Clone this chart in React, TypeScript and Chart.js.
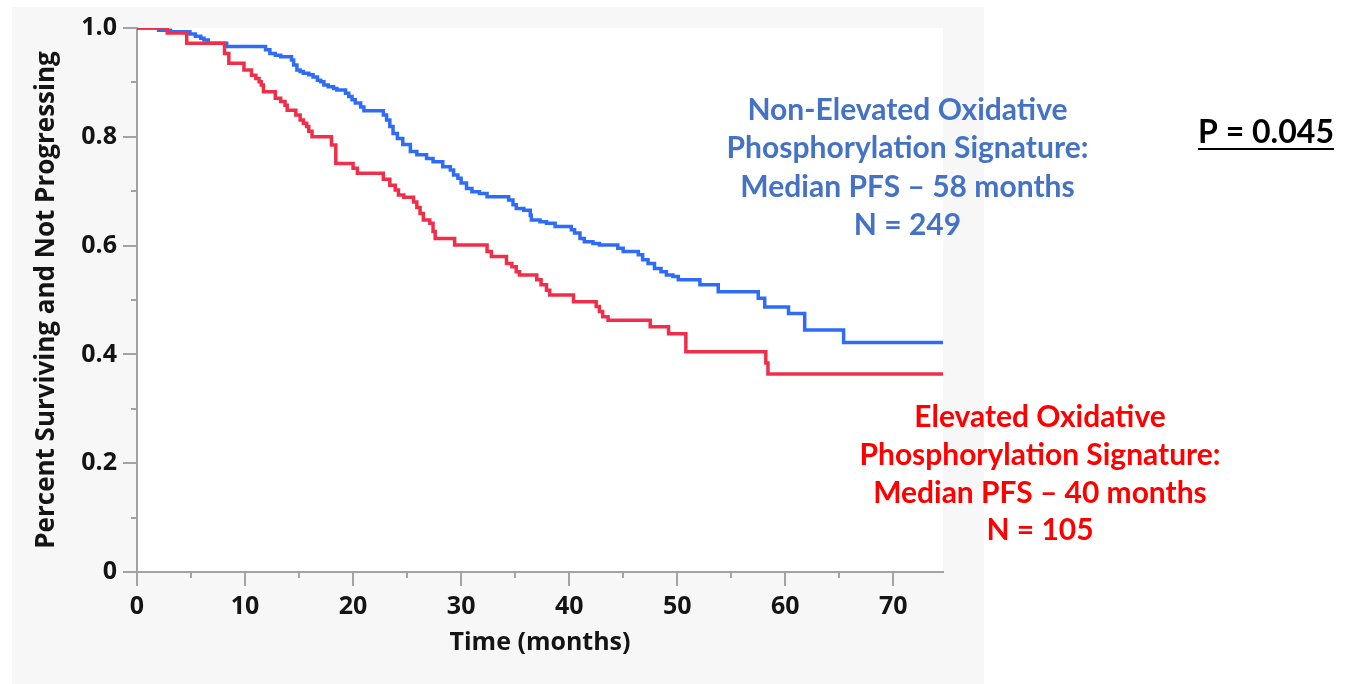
import React, { useEffect, useRef } from 'react';
import { Chart, registerables } from 'chart.js';

Chart.register(...registerables);

// ---- Data (Kaplan-Meier steps: time of drop, survival after drop) ----
const redTimes = [
  0, 2.8, 4.6, 8.1, 8.5, 9.9, 10.6, 11.0, 11.3, 11.5, 11.7, 12.8, 13.3, 13.7, 13.9,
  14.7, 15.1, 15.4, 15.7, 15.9, 16.2, 18.0, 18.4, 20.0, 20.4, 22.8, 23.4, 23.9, 24.2,
  24.7, 25.6, 25.9, 26.2, 26.5, 27.1, 27.4, 27.6, 29.4, 32.4, 32.8, 34.2, 34.7, 35.1,
  35.4, 37.0, 37.4, 37.9, 38.2, 40.4, 42.5, 42.8, 43.1, 43.6, 47.5, 49.2, 50.8, 58.2,
  58.4, 74.6,
];
const redSurvival = [
  1.0, 0.991, 0.972, 0.953, 0.935, 0.923, 0.913, 0.907, 0.901, 0.895, 0.883, 0.871, 0.865, 0.858, 0.849,
  0.840, 0.831, 0.825, 0.819, 0.810, 0.800, 0.785, 0.751, 0.742, 0.733, 0.722, 0.711, 0.702, 0.693,
  0.689, 0.680, 0.670, 0.659, 0.647, 0.641, 0.626, 0.613, 0.601, 0.589, 0.580, 0.567, 0.561, 0.552,
  0.546, 0.537, 0.528, 0.518, 0.509, 0.497, 0.488, 0.479, 0.469, 0.463, 0.451, 0.438, 0.405, 0.384,
  0.364, 0.364,
];

const blueTimes = [
  0, 2.0, 3.1, 4.9, 5.4, 5.9, 6.2, 6.6, 8.3, 11.9, 12.3, 12.8, 13.3, 14.3, 14.5, 14.8,
  15.1, 15.4, 15.9, 16.3, 16.7, 17.0, 17.3, 17.7, 18.2, 18.5, 19.3, 19.6, 19.9, 20.2,
  20.7, 21.0, 22.8, 23.1, 23.4, 23.7, 24.1, 24.6, 25.3, 25.9, 26.8, 27.4, 28.3, 29.0,
  29.3, 29.7, 30.0, 30.5, 31.0, 31.7, 32.4, 34.4, 34.8, 35.1, 35.8, 36.4, 36.5, 37.3,
  37.9, 38.7, 40.2, 40.5, 41.0, 41.4, 42.2, 42.8, 44.5, 45.0, 46.4, 46.8, 47.3, 47.9,
  48.5, 49.0, 49.6, 50.1, 52.1, 53.8, 57.5, 58.1, 60.3, 61.8, 65.4, 74.6,
];
const blueSurvival = [
  1.0, 0.996, 0.993, 0.989, 0.985, 0.981, 0.978, 0.972, 0.966, 0.960, 0.953, 0.950, 0.947, 0.941, 0.932, 0.923,
  0.920, 0.917, 0.914, 0.910, 0.904, 0.901, 0.895, 0.892, 0.889, 0.886, 0.880, 0.874, 0.868, 0.862,
  0.855, 0.848, 0.840, 0.831, 0.819, 0.806, 0.797, 0.786, 0.773, 0.767, 0.760, 0.754, 0.745, 0.739,
  0.730, 0.724, 0.715, 0.705, 0.699, 0.696, 0.690, 0.684, 0.675, 0.668, 0.665, 0.656, 0.647, 0.644,
  0.641, 0.635, 0.629, 0.623, 0.613, 0.607, 0.604, 0.601, 0.595, 0.589, 0.583, 0.574, 0.567, 0.558,
  0.552, 0.546, 0.543, 0.537, 0.528, 0.515, 0.503, 0.487, 0.475, 0.445, 0.422, 0.422,
];

const xMajorTicks = [0, 10, 20, 30, 40, 50, 60, 70];
const xMinorTicks = [5, 15, 25, 35, 45, 55, 65];
const yMajorTicks = [0, 0.2, 0.4, 0.6, 0.8, 1.0];
const yMinorTicks = [0.1, 0.3, 0.5, 0.7, 0.9];

const xAxisTitle = 'Time (months)';
const yAxisTitle = 'Percent Surviving and Not Progressing';
const blueNote = ['Non-Elevated Oxidative', 'Phosphorylation Signature:', 'Median PFS \u2013 58 months', 'N = 249'];
const redNote = ['Elevated Oxidative', 'Phosphorylation Signature:', 'Median PFS \u2013 40 months', 'N = 105'];
const pValueNote = 'P = 0.045';

// ---- Styles ----
const W = 1346;
const H = 684;
const AXIS_FAMILY = "'Open Sans', 'Noto Sans', sans-serif";
const NOTE_FAMILY = "Lato, 'Open Sans', sans-serif";
const AXIS_GRAY = '#a3a3a3';
const TEXT_DARK = '#141414';
const PANEL_GRAY = '#f7f7f7';
const BLUE_LINE = '#2e6cf7';
const RED_LINE = '#ef2f4a';
const BLUE_TEXT = '#4472c4';
const RED_TEXT = '#ff0000';

function fitFontSize(ctx: CanvasRenderingContext2D, text: string, target: number, family: string, weight: string) {
  ctx.font = `${weight} 100px ${family}`;
  const w = ctx.measureText(text).width;
  return (100 * target) / w;
}

const decorPlugin = {
  id: 'decor',
  beforeDraw(chart: any) {
    const { ctx, chartArea } = chart;
    ctx.save();
    ctx.fillStyle = '#ffffff';
    ctx.fillRect(0, 0, W, H);
    ctx.fillStyle = PANEL_GRAY;
    ctx.fillRect(12, 7, 972, 677);
    ctx.fillStyle = '#ffffff';
    ctx.fillRect(chartArea.left, chartArea.top, chartArea.right - chartArea.left, chartArea.bottom - chartArea.top);
    ctx.restore();
  },
  afterDraw(chart: any) {
    const { ctx, chartArea, scales } = chart;
    ctx.save();
    // tick marks
    ctx.strokeStyle = AXIS_GRAY;
    ctx.lineWidth = 2;
    const xs = scales.x;
    const ys = scales.y;
    const drawX = (vals: number[], len: number) => {
      vals.forEach((v) => {
        const px = Math.round(xs.getPixelForValue(v));
        ctx.beginPath();
        ctx.moveTo(px, chartArea.bottom);
        ctx.lineTo(px, chartArea.bottom + len);
        ctx.stroke();
      });
    };
    const drawY = (vals: number[], len: number) => {
      vals.forEach((v) => {
        const py = Math.round(ys.getPixelForValue(v));
        ctx.beginPath();
        ctx.moveTo(chartArea.left, py);
        ctx.lineTo(chartArea.left - len, py);
        ctx.stroke();
      });
    };
    drawX(xMajorTicks, 14);
    drawX(xMinorTicks, 6);
    drawY(yMajorTicks, 14);
    drawY(yMinorTicks, 6);

    // annotations
    ctx.textAlign = 'center';
    ctx.textBaseline = 'alphabetic';
    const blueSize = fitFontSize(ctx, blueNote[1], 362, NOTE_FAMILY, 'bold');
    ctx.font = `bold ${blueSize}px ${NOTE_FAMILY}`;
    ctx.fillStyle = BLUE_TEXT;
    blueNote.forEach((line, i) => ctx.fillText(line, 907.5, 119.5 + i * 38.5));

    const redSize = fitFontSize(ctx, redNote[1], 361, NOTE_FAMILY, 'bold');
    ctx.font = `bold ${redSize}px ${NOTE_FAMILY}`;
    ctx.fillStyle = RED_TEXT;
    redNote.forEach((line, i) => ctx.fillText(line, 1040, 427 + i * 37.8));

    const pSize = fitFontSize(ctx, pValueNote, 136, NOTE_FAMILY, 'bold');
    ctx.font = `bold ${pSize}px ${NOTE_FAMILY}`;
    ctx.fillStyle = '#000000';
    ctx.fillText(pValueNote, 1266, 143);
    const pw = ctx.measureText(pValueNote).width;
    ctx.fillRect(1266 - pw / 2, 148, pw, 2);
    ctx.restore();
  },
};

export default function App() {
  const canvasRef = useRef<HTMLCanvasElement | null>(null);

  useEffect(() => {
    const canvas = canvasRef.current;
    if (!canvas) return;
    const axisFont = { family: AXIS_FAMILY, size: 25, weight: 'bold' as const };
    const chart = new Chart(canvas, {
      type: 'line',
      data: {
        datasets: [
          {
            label: 'Elevated',
            data: redTimes.map((t, i) => ({ x: t, y: redSurvival[i] })),
            borderColor: RED_LINE,
            borderWidth: 3.5,
            pointRadius: 0,
            stepped: 'before',
            fill: false,
          },
          {
            label: 'Non-Elevated',
            data: blueTimes.map((t, i) => ({ x: t, y: blueSurvival[i] })),
            borderColor: BLUE_LINE,
            borderWidth: 3.5,
            pointRadius: 0,
            stepped: 'before',
            fill: false,
          },
        ],
      },
      options: {
        animation: false,
        responsive: false,
        devicePixelRatio: 1,
        layout: { padding: { top: 28, right: W - 943, bottom: 0, left: 0 } },
        plugins: { legend: { display: false }, tooltip: { enabled: false } },
        events: [],
        scales: {
          x: {
            type: 'linear',
            min: 0,
            max: 74.6,
            afterBuildTicks: (scale: any) => {
              scale.ticks = [...xMajorTicks, ...xMinorTicks].sort((a, b) => a - b).map((v) => ({ value: v }));
            },
            afterFit: (scale: any) => {
              scale.height = H - 572;
              scale.paddingLeft = 0;
              scale.paddingRight = 0;
            },
            ticks: {
              autoSkip: false,
              maxRotation: 0,
              padding: 20,
              color: TEXT_DARK,
              font: axisFont,
              callback: (v: any) => (xMajorTicks.includes(v) ? String(v) : ''),
            },
            grid: { display: false, drawTicks: false },
            border: { display: true, color: AXIS_GRAY, width: 2 },
            title: {
              display: true,
              text: xAxisTitle,
              color: TEXT_DARK,
              font: axisFont,
              padding: { top: 0, bottom: 26 },
            },
          },
          y: {
            type: 'linear',
            min: 0,
            max: 1,
            afterBuildTicks: (scale: any) => {
              scale.ticks = [...yMajorTicks, ...yMinorTicks].sort((a, b) => a - b).map((v) => ({ value: v }));
            },
            afterFit: (scale: any) => {
              scale.width = 137;
              scale.paddingTop = 0;
              scale.paddingBottom = 0;
            },
            ticks: {
              autoSkip: false,
              padding: 20,
              color: TEXT_DARK,
              font: axisFont,
              callback: (v: any) => (yMajorTicks.includes(v) ? (v === 0 ? '0' : Number(v).toFixed(1)) : ''),
            },
            grid: { display: false, drawTicks: false },
            border: { display: true, color: AXIS_GRAY, width: 2 },
            title: {
              display: true,
              text: yAxisTitle,
              color: TEXT_DARK,
              font: { family: AXIS_FAMILY, size: 26, weight: 'bold' as const },
              padding: { top: 31, bottom: 0 },
            },
          },
        },
      },
      plugins: [decorPlugin],
    });
    return () => chart.destroy();
  }, []);

  return (
    <div style={{ position: 'fixed', left: 0, top: 0, width: W, height: H, background: '#fff' }}>
      <canvas ref={canvasRef} width={W} height={H} style={{ display: 'block', width: W, height: H }} />
    </div>
  );
}
